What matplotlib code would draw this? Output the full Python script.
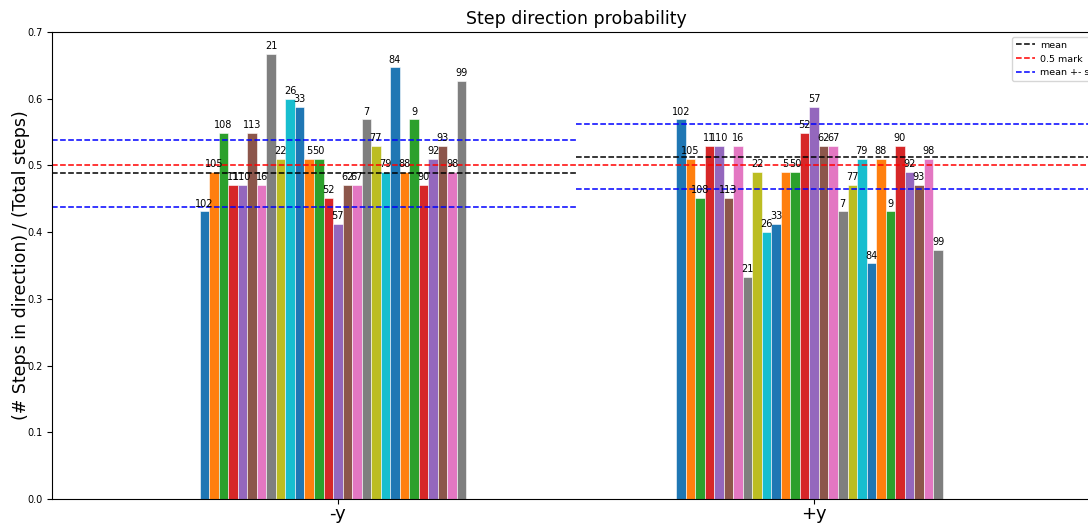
import numpy as np
import matplotlib
matplotlib.use("Agg")
import matplotlib.pyplot as plt

directions = ["-y", "+y"]
labels = ["102", "105", "108", "11", "110", "113", "16", "21", "22", "26",
          "33", "5", "50", "52", "57", "62", "67", "7", "77", "79",
          "84", "88", "9", "90", "92", "93", "98", "99"]
neg_y = [0.431, 0.490, 0.549, 0.471, 0.471, 0.549, 0.471, 0.667, 0.510, 0.600,
         0.588, 0.510, 0.510, 0.451, 0.412, 0.471, 0.471, 0.569, 0.529, 0.490,
         0.647, 0.490, 0.569, 0.471, 0.510, 0.529, 0.490, 0.627]
pos_y = [0.569, 0.510, 0.451, 0.529, 0.529, 0.451, 0.529, 0.333, 0.490, 0.400,
         0.412, 0.490, 0.490, 0.549, 0.588, 0.529, 0.529, 0.431, 0.471, 0.510,
         0.353, 0.510, 0.431, 0.529, 0.490, 0.471, 0.510, 0.373]
means = [0.488, 0.513]
stds = [0.050, 0.049]

probs = np.array([neg_y, pos_y])
x = np.arange(len(directions))
width = 0.02
n = len(labels)
colors = plt.rcParams["axes.prop_cycle"].by_key()["color"]

fig = plt.figure(figsize=(10.88, 5.23), dpi=100)
ax = fig.add_axes([52 / 1088, 24 / 523, 1048 / 1088, 467 / 523])

for i, lab in enumerate(labels):
    pos = x + (i - n // 2) * width
    ax.bar(pos, probs[:, i], width, color=colors[i % 10],
           edgecolor="white", linewidth=0.4)
    for xp, h in zip(pos, probs[:, i]):
        ax.text(xp, h + 0.004, lab, ha="center", va="bottom", fontsize=7)

for j in range(len(directions)):
    lo, hi = j * 0.5, (j + 1) * 0.5
    ax.axhline(means[j], xmin=lo, xmax=hi, color="black", ls="--", lw=1.1,
               label="mean" if j == 0 else None)
    ax.axhline(means[j] + stds[j], xmin=lo, xmax=hi, color="blue", ls="--", lw=1.1,
               label="mean +- std" if j == 0 else None)
    ax.axhline(means[j] - stds[j], xmin=lo, xmax=hi, color="blue", ls="--", lw=1.1)
ax.axhline(0.5, color="red", ls="--", lw=1.1, label="0.5 mark")

handles, names = ax.get_legend_handles_labels()
order = [names.index("mean"), names.index("0.5 mark"), names.index("mean +- std")]
ax.legend([handles[k] for k in order], [names[k] for k in order],
          loc="upper left", bbox_to_anchor=(1012 / 1088, 1 - 37 / 523),
          bbox_transform=fig.transFigure, borderaxespad=0, fontsize=6.8,
          handletextpad=0.6)

ax.set_xlim(-0.6, 1.6)
ax.set_ylim(0, 0.7)
ax.set_xticks(x)
ax.set_xticklabels(directions, fontsize=13)
ax.tick_params(axis="x", pad=1)
ax.tick_params(axis="y", labelsize=7)
ax.set_ylabel("(# Steps in direction) / (Total steps)", fontsize=12.5, labelpad=-2)
ax.set_title("Step direction probability", fontsize=12.5)

fig.savefig("out.png", dpi=100)
